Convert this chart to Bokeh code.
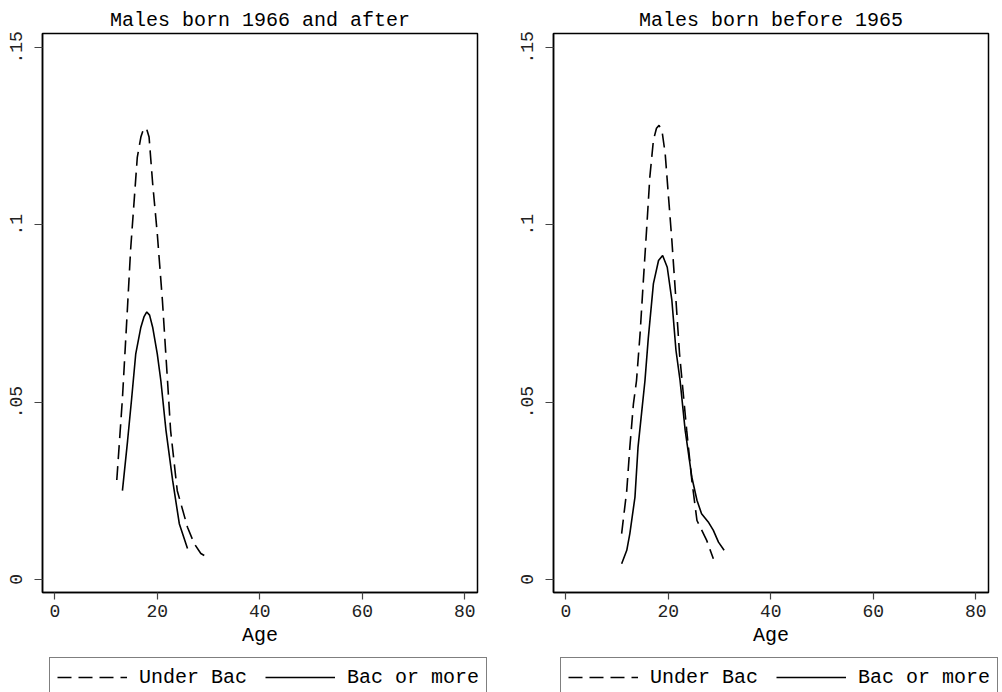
from bokeh.plotting import figure
from bokeh.models import Legend, LegendItem, FixedTicker, Range1d, ColumnDataSource
from bokeh.layouts import row, column
from bokeh.embed import file_html
from bokeh.resources import INLINE

FONT = "Liberation Mono"

titles = ["Males born 1966 and after", "Males born before 1965"]
series_labels = ["Under Bac", "Bac or more"]
x_ticks = [0, 20, 40, 60, 80]
y_ticks = [0, 0.05, 0.1, 0.15]
y_tick_labels = {0: "0", 0.05: ".05", 0.1: ".1", 0.15: ".15"}

# Panel 1: males born 1966 and after
age_under_1966 = [12.1, 13.2, 14.2, 14.8, 15.5, 16.1, 16.8, 17.4, 18.0, 18.4, 19.1, 20.0, 21.0, 22.0, 22.6, 23.9, 25.9, 27.2, 28.5, 29.8]
dens_under_1966 = [0.028, 0.051, 0.077, 0.093, 0.107, 0.119, 0.1247, 0.1273, 0.1266, 0.1247, 0.1116, 0.0975, 0.0787, 0.056, 0.042, 0.025, 0.0147, 0.0101, 0.0073, 0.0062]
age_bac_1966 = [13.2, 14.2, 15.0, 15.8, 16.8, 17.4, 17.95, 18.5, 19.1, 20.0, 20.7, 21.7, 23.0, 24.3, 25.9]
dens_bac_1966 = [0.025, 0.039, 0.051, 0.0636, 0.0711, 0.074, 0.0754, 0.0745, 0.0711, 0.0636, 0.056, 0.042, 0.0279, 0.0157, 0.0087]

# Panel 2: males born before 1965
age_under_1965 = [10.9, 11.9, 12.5, 13.2, 13.8, 14.5, 15.1, 15.8, 16.4, 17.1, 17.7, 18.2, 18.8, 19.4, 20.0, 20.7, 21.5, 22.2, 23.6, 24.6, 25.6, 27.5, 28.8]
dens_under_1965 = [0.0129, 0.0251, 0.0373, 0.0495, 0.056, 0.0693, 0.0834, 0.0993, 0.1134, 0.1238, 0.1272, 0.128, 0.1262, 0.12, 0.1087, 0.0956, 0.0787, 0.0636, 0.042, 0.0279, 0.0166, 0.011, 0.0058]
age_bac_1965 = [10.9, 11.9, 12.5, 13.5, 14.1, 14.8, 15.45, 16.1, 17.1, 18.1, 18.9, 19.8, 20.7, 21.5, 22.3, 23.3, 24.6, 25.6, 26.5, 27.8, 28.8, 29.8, 30.9]
dens_bac_1965 = [0.0044, 0.0082, 0.0129, 0.0232, 0.0373, 0.047, 0.056, 0.068, 0.0834, 0.0899, 0.0913, 0.088, 0.0787, 0.0646, 0.0561, 0.042, 0.0288, 0.0223, 0.0185, 0.0162, 0.0138, 0.0105, 0.0082]

DASH = "14 7"


def make_panel(title, xu, yu, xb, yb, border_right):
    p = figure(frame_width=435, frame_height=559,
               x_range=Range1d(-2.4, 82.5), y_range=Range1d(-0.0037, 0.1539),
               output_backend="svg", toolbar_location=None,
               min_border_left=42, min_border_right=border_right,
               min_border_top=33, min_border_bottom=65, title=title)
    p.title.text_font = FONT
    p.title.text_font_size = "20px"
    p.title.text_font_style = "normal"
    p.title.text_color = "black"
    p.title.align = "center"
    p.title.standoff = 4
    p.grid.visible = False
    p.outline_line_color = "black"
    p.outline_line_width = 1.5
    p.background_fill_color = "white"
    p.border_fill_color = "white"

    for ax in (p.xaxis[0], p.yaxis[0]):
        ax.axis_line_color = "black"
        ax.axis_line_width = 1.5
        ax.major_tick_in = 0
        ax.major_tick_line_color = "#444444"
        ax.major_tick_line_width = 1.2
        ax.minor_tick_line_color = None
        ax.major_label_text_font = FONT
        ax.major_label_text_font_size = "18px"
        ax.major_label_text_color = "#222222"

    p.xaxis.ticker = FixedTicker(ticks=x_ticks)
    p.xaxis.major_tick_out = 7
    p.xaxis.major_label_standoff = 5
    p.xaxis.axis_label = "Age"
    p.xaxis.axis_label_text_font = FONT
    p.xaxis.axis_label_text_font_size = "20px"
    p.xaxis.axis_label_text_font_style = "normal"
    p.xaxis.axis_label_text_color = "black"
    p.xaxis.axis_label_standoff = 4

    p.yaxis.ticker = FixedTicker(ticks=y_ticks)
    p.yaxis.major_label_overrides = y_tick_labels
    p.yaxis.major_label_orientation = "vertical"
    p.yaxis.major_tick_out = 8
    p.yaxis.major_label_standoff = 12

    src_u = ColumnDataSource(dict(x=xu, y=yu))
    src_b = ColumnDataSource(dict(x=xb, y=yb))
    p.line("x", "y", source=src_u, line_color="black", line_width=1.6, line_dash=DASH)
    p.line("x", "y", source=src_b, line_color="black", line_width=1.6)
    return p


def make_legend_fig(width, left, xu, yu, xb, yb):
    # Legend strip below each panel; its own ranges keep the series out of view,
    # the renderers only supply the legend glyph styles.
    lf = figure(width=width, height=35, x_range=Range1d(1000, 1001), y_range=Range1d(1000, 1001),
                x_axis_type=None, y_axis_type=None,
                output_backend="svg", toolbar_location=None,
                min_border_left=left, min_border_right=0,
                min_border_top=0, min_border_bottom=0)
    lf.grid.visible = False
    lf.outline_line_color = None
    lf.background_fill_color = "white"
    lf.border_fill_color = "white"
    r_u = lf.line("x", "y", source=ColumnDataSource(dict(x=xu, y=yu)), line_color="black",
                  line_width=1.6, line_dash=DASH)
    r_b = lf.line("x", "y", source=ColumnDataSource(dict(x=xb, y=yb)), line_color="black",
                  line_width=1.6)
    legend = Legend(items=[LegendItem(label=series_labels[0], renderers=[r_u]),
                           LegendItem(label=series_labels[1], renderers=[r_b])],
                    orientation="horizontal", location="top_left",
                    margin=0, padding=7, spacing=18, glyph_width=70, glyph_height=24,
                    label_height=24, label_standoff=12,
                    label_text_font=FONT, label_text_font_size="20px",
                    label_text_color="black",
                    border_line_color="black", border_line_width=1.2,
                    background_fill_color="white")
    lf.add_layout(legend, "center")
    return lf


p1 = make_panel(titles[0], age_under_1966, dens_under_1966, age_bac_1966, dens_bac_1966, 34)
p2 = make_panel(titles[1], age_under_1965, dens_under_1965, age_bac_1965, dens_bac_1965, 14)
l1 = make_legend_fig(511, 49, age_under_1966, dens_under_1966, age_bac_1966, dens_bac_1966)
l2 = make_legend_fig(491, 49, age_under_1965, dens_under_1965, age_bac_1965, dens_bac_1965)

layout = column(row(p1, p2), row(l1, l2))
open("out.html", "w").write(file_html(layout, INLINE))
